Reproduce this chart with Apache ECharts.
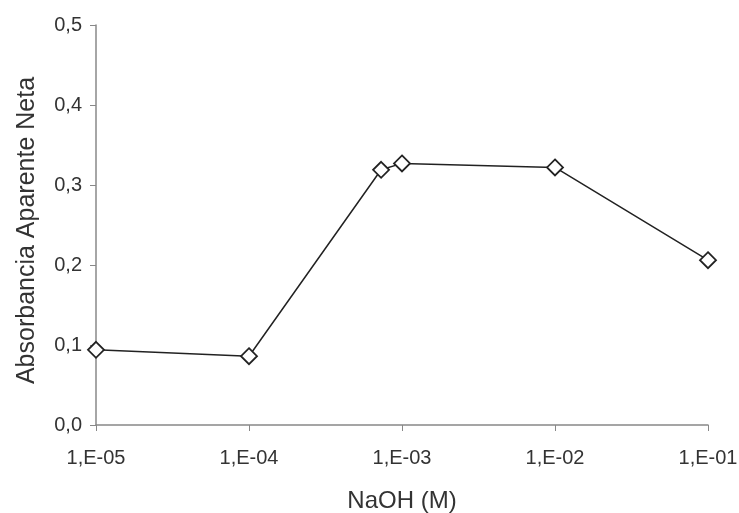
<!DOCTYPE html>
<html>
<head>
<meta charset="utf-8">
<script src="https://cdn.jsdelivr.net/npm/echarts@6/dist/echarts.min.js"></script>
<style>
  html, body { margin: 0; padding: 0; background: #fff; }
  #chart { width: 739px; height: 513px; }
</style>
</head>
<body>
<div id="chart"></div>
<script>
// NaOH concentration (M) and net apparent absorbance
var naoh = [1e-5, 1e-4, 7.3e-4, 1e-3, 1e-2, 1e-1];
var absorbance = [0.094, 0.086, 0.319, 0.327, 0.322, 0.206];
var yTicks = ["0,0", "0,1", "0,2", "0,3", "0,4", "0,5"];

var points = naoh.map(function (x, i) { return [x, absorbance[i]]; });

var chart = echarts.init(document.getElementById("chart"));
chart.setOption({
  animation: false,
  grid: { left: 96, right: 31, top: 25, bottom: 88, outerBoundsMode: "none" },
  xAxis: {
    type: "log",
    logBase: 10,
    min: 1e-5,
    max: 1e-1,
    name: "NaOH (M)",
    nameLocation: "middle",
    nameGap: 64,
    nameTextStyle: { fontFamily: "Liberation Sans", fontSize: 24, color: "#333" },
    axisLine: { lineStyle: { color: "#888", width: 1.5 } },
    axisTick: { show: true, length: 6, lineStyle: { color: "#888" } },
    minorTick: { show: false },
    splitLine: { show: false },
    axisLabel: {
      margin: 23,
      fontFamily: "Liberation Sans",
      fontSize: 20,
      color: "#333",
      formatter: function (v) {
        var e = Math.round(Math.log10(v));
        return "1,E" + (e < 0 ? "-" : "+") + String(Math.abs(e)).padStart(2, "0");
      }
    }
  },
  yAxis: {
    type: "value",
    min: 0,
    max: 0.5,
    interval: 0.1,
    name: "Absorbancia Aparente Neta",
    nameLocation: "middle",
    nameGap: 56,
    nameTextStyle: { fontFamily: "Liberation Sans", fontSize: 25, color: "#333", padding: [0, 11, 0, 0] },
    axisLine: { show: true, lineStyle: { color: "#888", width: 1.5 } },
    axisTick: { show: true, length: 6, lineStyle: { color: "#888" } },
    splitLine: { show: false },
    axisLabel: {
      margin: 14,
      fontFamily: "Liberation Sans",
      fontSize: 20,
      color: "#333",
      formatter: function (v) { return yTicks[Math.round(v * 10)]; }
    }
  },
  series: [{
    type: "line",
    data: points,
    symbol: "diamond",
    symbolSize: 16,
    lineStyle: { color: "#222", width: 1.5 },
    itemStyle: { color: "#fff", borderColor: "#222", borderWidth: 1.8 }
  }]
});
</script>
</body>
</html>
